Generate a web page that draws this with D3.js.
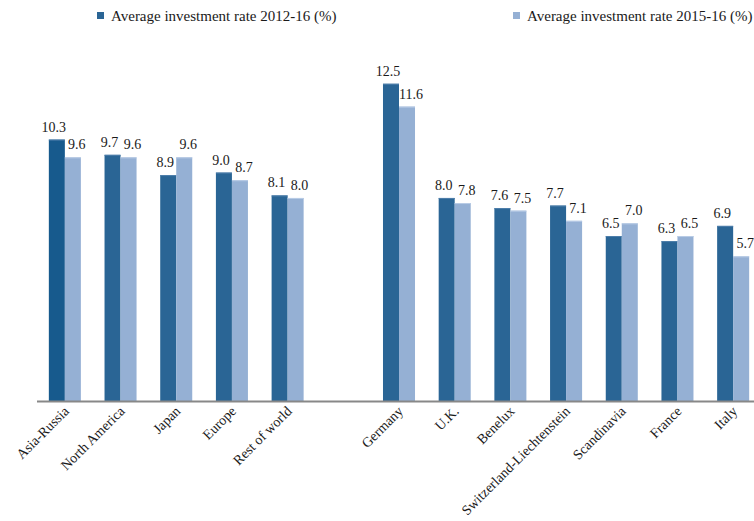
<!DOCTYPE html>
<html>
<head>
<meta charset="utf-8">
<script src="https://cdn.jsdelivr.net/npm/d3@7"></script>
<style>
  html, body { margin: 0; padding: 0; background: #fff; }
  svg { display: block; }
</style>
</head>
<body>
<svg id="chart" width="754" height="521"></svg>
<script>
// ---- data ----
const regions = ["Asia-Russia", "North America", "Japan", "Europe", "Rest of world"];
const countries = ["Germany", "U.K.", "Benelux", "Switzerland-Liechtenstein", "Scandinavia", "France", "Italy"];
const categories = [...regions, "", ...countries]; // "" = gap slot
const series1Name = "Average investment rate 2012-16 (%)";
const series2Name = "Average investment rate 2015-16 (%)";
const rate2012_16 = [10.3, 9.7, 8.9, 9.0, 8.1, null, 12.5, 8.0, 7.6, 7.7, 6.5, 6.3, 6.9];
const rate2015_16 = [9.6, 9.6, 9.6, 8.7, 8.0, null, 11.6, 7.8, 7.5, 7.1, 7.0, 6.5, 5.7];

// ---- styles ----
const FONT = "'Liberation Serif', 'Times New Roman', serif";
const darkColor = "#2a6595";
const darkHighlight = "#175a8d";
const lightColor = "#95b0d4";
const axisColor = "#888888";
const textColor = "#1a1a1a";

const svg = d3.select("#chart");
const baseY = 401;

const x = d3.scaleBand()
  .domain(categories.map((c, i) => i))
  .range([37, 761])
  .paddingInner(0.425)
  .paddingOuter(0.2125);

const x1 = d3.scaleBand()
  .domain([0, 1])
  .range([0, x.bandwidth()]);

const y = d3.scaleLinear()
  .domain([0, 15.8])
  .range([baseY, 0]);

const rows = categories.map((c, i) => ({ i, c, v: [rate2012_16[i], rate2015_16[i]] }))
  .filter(d => d.c !== "");

const fill = (d, k) => k === 1 ? lightColor : (d.i === 0 ? darkHighlight : darkColor);

const g = svg.append("g");
rows.forEach(d => {
  d.v.forEach((v, k) => {
    g.append("rect")
      .attr("x", x(d.i) + x1(k))
      .attr("width", x1.bandwidth())
      .attr("y", y(v))
      .attr("height", y(0) - y(v))
      .attr("fill", fill(d, k));
    g.append("line")
      .attr("x1", x(d.i) + x1(k))
      .attr("x2", x(d.i) + x1(k) + x1.bandwidth())
      .attr("y1", y(v) + 0.5)
      .attr("y2", y(v) + 0.5)
      .attr("stroke", k === 1 ? "#b9cce6" : "#4f7fab")
      .attr("stroke-width", 1);
    g.append("text")
      .attr("x", x(d.i) + x1(k) + x1.bandwidth() / 2 + (k === 1 ? 4 : -3))
      .attr("y", y(v) - 8)
      .attr("text-anchor", "middle")
      .style("font-family", FONT)
      .style("font-size", "14px")
      .attr("fill", textColor)
      .text(v.toFixed(1));
  });
});

// axis
const xAxis = d3.axisBottom(x)
  .tickSize(0)
  .tickFormat(i => categories[i]);
const ax = svg.append("g")
  .attr("transform", `translate(0,${baseY})`)
  .call(xAxis);
ax.select(".domain").remove();
ax.append("line")
  .attr("x1", 37).attr("x2", 754)
  .attr("y1", 0.5).attr("y2", 0.5)
  .attr("stroke", axisColor)
  .attr("stroke-width", 2);
ax.selectAll(".tick text")
  .style("font-family", FONT)
  .style("font-size", "14px")
  .attr("fill", textColor)
  .attr("text-anchor", "end")
  .attr("dy", null)
  .attr("y", 0)
  .attr("transform", "translate(5,11) rotate(-45)");

// legend
const legend = [
  { name: series1Name, color: darkColor, x: 97 },
  { name: series2Name, color: lightColor, x: 513 }
];
legend.forEach(l => {
  svg.append("rect")
    .attr("x", l.x).attr("y", 12)
    .attr("width", 7).attr("height", 7)
    .attr("fill", l.color);
  svg.append("text")
    .attr("x", l.x + 14).attr("y", 21)
    .style("font-family", FONT)
    .style("font-size", "15px")
    .attr("fill", textColor)
    .text(l.name);
});
</script>
</body>
</html>
